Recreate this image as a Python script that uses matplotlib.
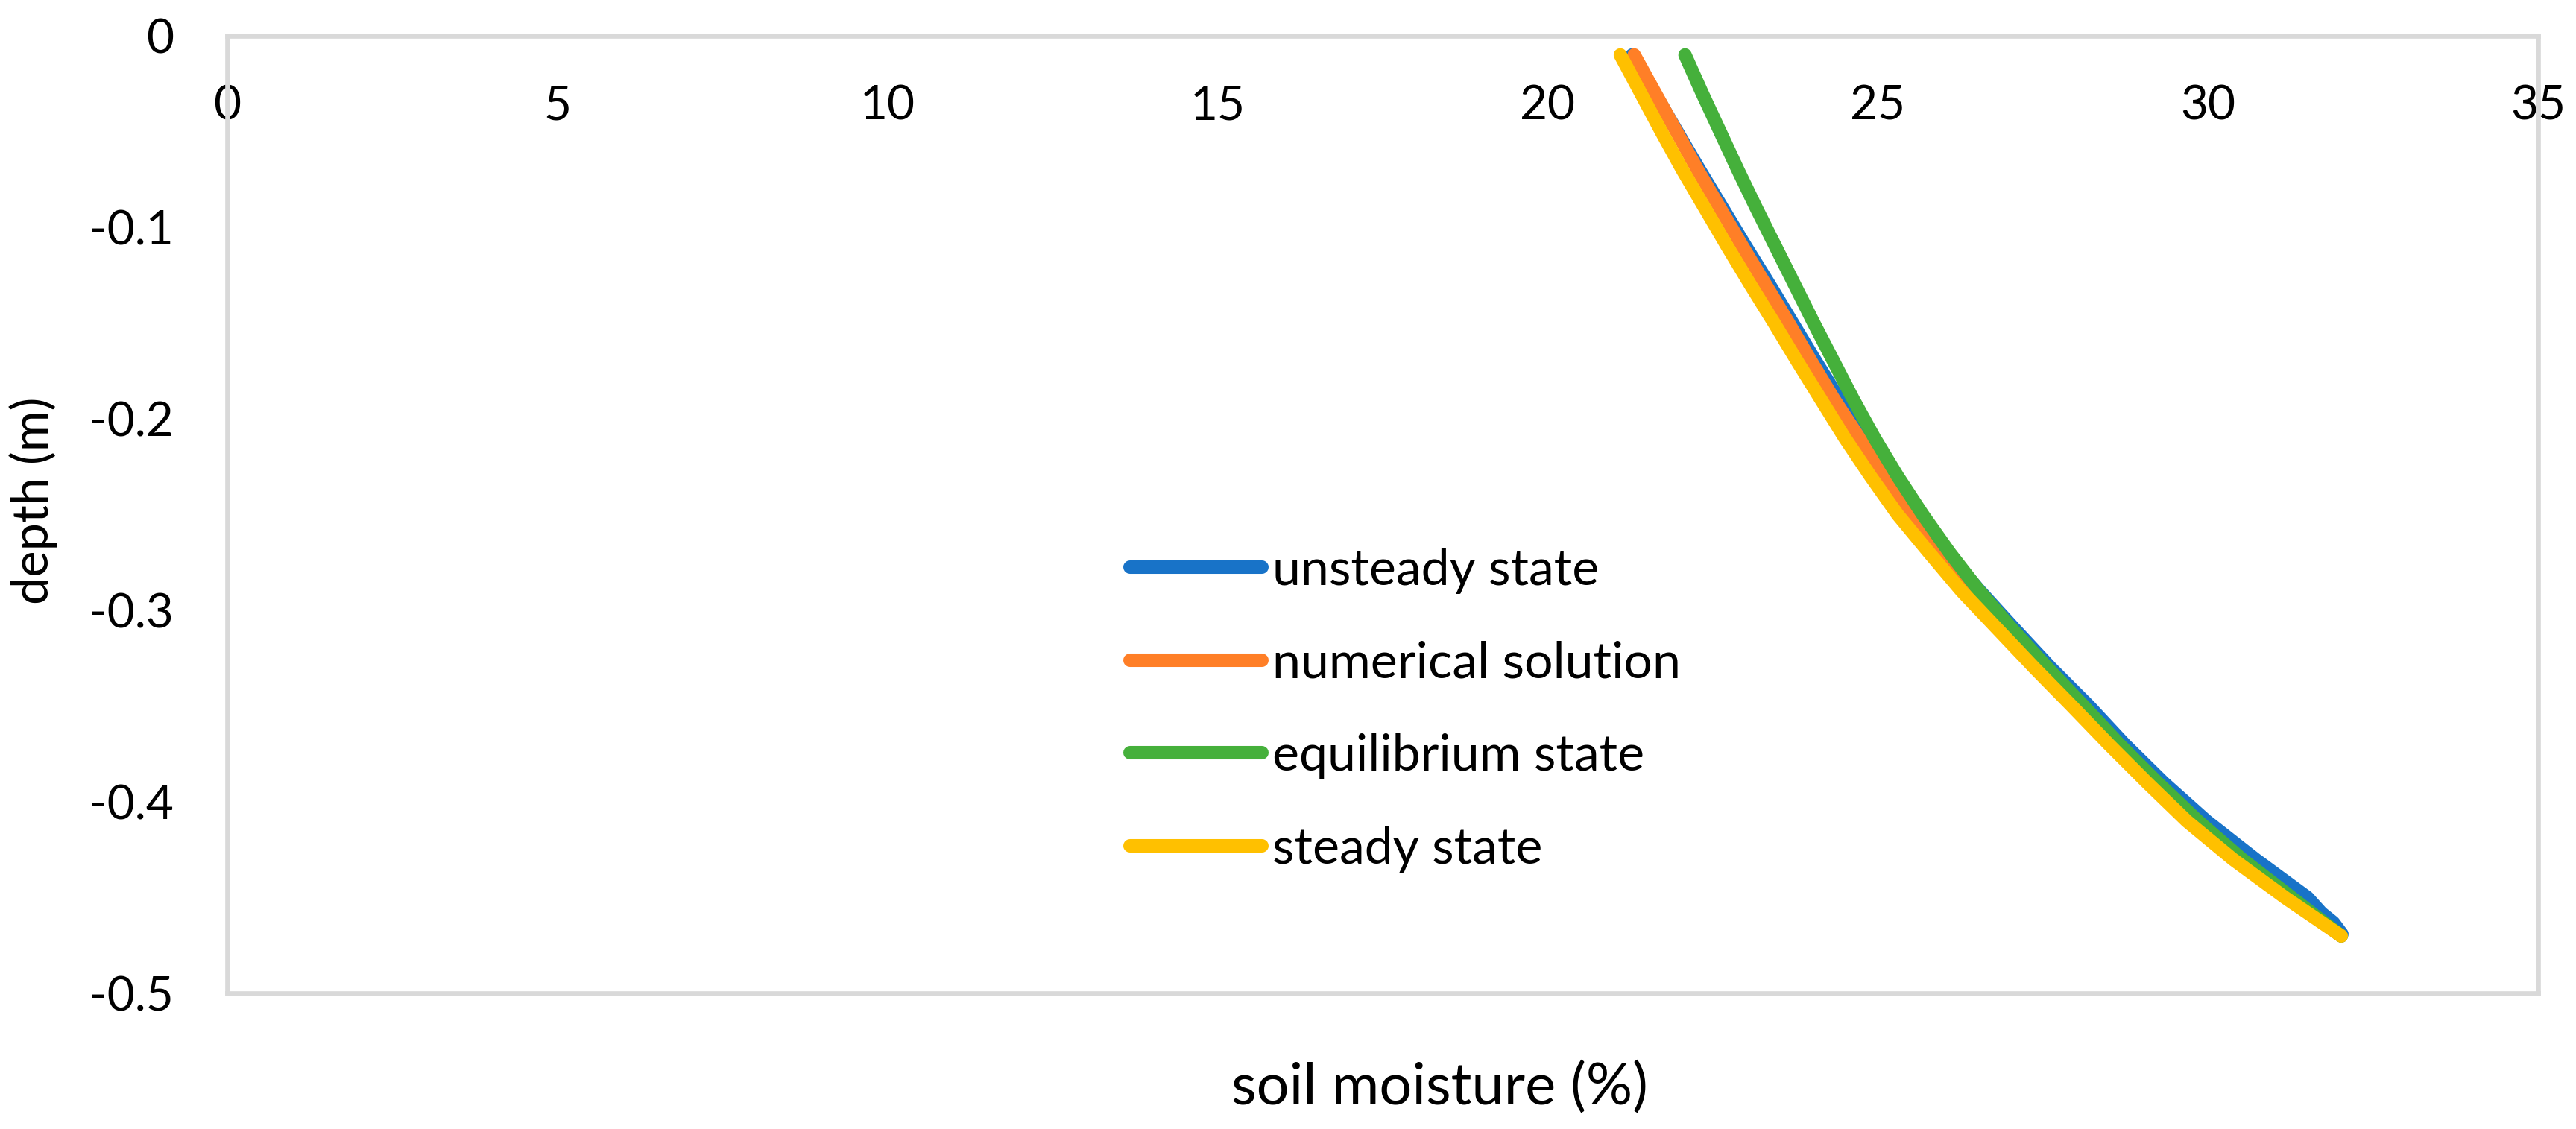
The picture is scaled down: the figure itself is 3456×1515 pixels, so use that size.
"""
Soil moisture profiles vs depth: unsteady, numerical, equilibrium and
steady state solutions (Excel-style line chart, x ticks along the top).
"""

import matplotlib
matplotlib.use("Agg")
import matplotlib.pyplot as plt

plt.rcParams.update({
    "font.family": ["Lato", "DejaVu Sans"],
    "axes.unicode_minus": False,
})

# ── Data ──────────────────────────────────────────────────
depth = [-0.01, -0.03, -0.05, -0.07, -0.09, -0.11, -0.13, -0.15, -0.17,
         -0.19, -0.21, -0.23, -0.25, -0.27, -0.29, -0.31, -0.33, -0.35,
         -0.37, -0.39, -0.41, -0.43, -0.45, -0.47]

numerical = [21.31, 21.63, 21.95, 22.27, 22.61, 22.95, 23.30, 23.65, 23.99,
             24.34, 24.72, 25.11, 25.51, 25.95, 26.42, 26.93, 27.47, 28.03,
             28.58, 29.15, 29.76, 30.44, 31.20, 32.02]

equilibrium = [22.08, 22.34, 22.61, 22.88, 23.16, 23.45, 23.74, 24.03, 24.33,
               24.63, 24.95, 25.30, 25.68, 26.09, 26.54, 27.04, 27.57, 28.12,
               28.66, 29.24, 29.85, 30.52, 31.27, 32.02]

steady = [21.10, 21.41, 21.72, 22.04, 22.38, 22.72, 23.07, 23.43, 23.78,
          24.14, 24.50, 24.89, 25.30, 25.78, 26.27, 26.82, 27.37, 27.94,
          28.50, 29.08, 29.68, 30.38, 31.17, 32.02]

# unsteady state has a small hook at the bottom, so it gets its own depths
depth_unsteady = [-0.01, -0.03, -0.05, -0.07, -0.09, -0.11, -0.13, -0.15,
                  -0.17, -0.19, -0.21, -0.23, -0.25, -0.27, -0.29, -0.31,
                  -0.33, -0.35, -0.37, -0.39, -0.41, -0.43, -0.45, -0.458,
                  -0.463, -0.469]
unsteady = [21.28, 21.62, 21.96, 22.30, 22.65, 23.00, 23.36, 23.71, 24.06,
            24.42, 24.79, 25.18, 25.60, 26.05, 26.55, 27.08, 27.62, 28.20,
            28.74, 29.33, 29.98, 30.72, 31.51, 31.72, 31.90, 32.03]

series_names = ["unsteady state", "numerical solution",
                "equilibrium state", "steady state"]
colors = ["#1873C8", "#FF7F27", "#45B03B", "#FFC000"]

x_ticks = [0, 5, 10, 15, 20, 25, 30, 35]
y_ticks = [0, -0.1, -0.2, -0.3, -0.4, -0.5]
y_tick_labels = ["0", "-0.1", "-0.2", "-0.3", "-0.4", "-0.5"]

# ── Figure ────────────────────────────────────────────────
W, H = 3456, 1515
fig = plt.figure(figsize=(W / 200, H / 200), dpi=200)
ax = fig.add_axes([305 / W, 1 - 1333 / H, 3100 / W, 1285 / H])

lw = 6.5
curves = [(unsteady, depth_unsteady), (numerical, depth),
          (equilibrium, depth), (steady, depth)]
for (xs, ds), name, c in zip(curves, series_names, colors):
    ax.plot(xs, ds, color=c, lw=lw, solid_capstyle="round",
            solid_joinstyle="round", label=name)

ax.set_xlim(0, 35)
ax.set_ylim(-0.5, 0)

# Light grey frame
for sp in ax.spines.values():
    sp.set_color("#D9D9D9")
    sp.set_linewidth(2.4)

# y tick labels left of the frame
ax.set_yticks(y_ticks)
ax.set_yticklabels(y_tick_labels)
ax.tick_params(axis="y", length=0, pad=26, labelsize=23)

# x tick labels just under the top border (axis crosses at depth 0)
ax.set_xticks(x_ticks)
ax.set_xticklabels([str(v) for v in x_ticks])
ax.tick_params(axis="x", length=0, bottom=False, labelbottom=False,
               top=True, labeltop=True, pad=-34, labelsize=23)
for lab in ax.get_xticklabels():
    lab.set_verticalalignment("center")

# Axis titles
fig.text(1931 / W, 1 - 1460 / H, "soil moisture (%)", ha="center",
         va="center", fontsize=28)
fig.text(45 / W, 1 - 672 / H, "depth (m)", ha="center", va="center",
         rotation=90, fontsize=24)

ax.legend(loc="upper left", bbox_to_anchor=(1516 / W, 1 - 735 / H),
          bbox_transform=fig.transFigure, frameon=False, fontsize=24.5,
          handlelength=2.6, handletextpad=0.2, labelspacing=0.92,
          borderpad=0, borderaxespad=0)

fig.savefig("out.png", dpi=200)
